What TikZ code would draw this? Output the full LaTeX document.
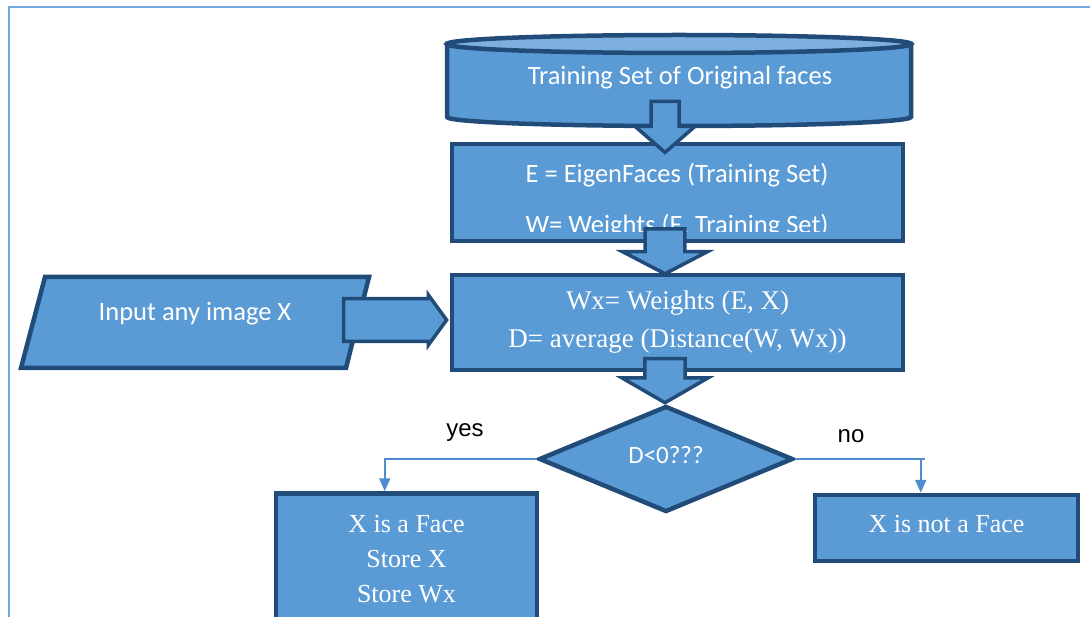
\documentclass[tikz,border=0pt]{standalone}
\usepackage{fontspec}
\setmainfont{Liberation Serif}
\newfontfamily\calibri{Carlito}
\newfontfamily\arialfont{Liberation Sans}
\usetikzlibrary{shapes.geometric, shapes.arrows, arrows.meta, positioning}
\definecolor{OfficeBlue}{RGB}{91, 155, 213}
\definecolor{OfficeLight}{RGB}{125, 176, 223}
\definecolor{NavyEdge}{RGB}{33, 76, 121}
\definecolor{FrameBlue}{RGB}{111, 168, 220}
\definecolor{LinkBlue}{RGB}{78, 140, 205}

\tikzset{
    procbox/.style={draw=NavyEdge, line width=4.5pt, fill=OfficeBlue, text=white, inner sep=0pt},
    decision/.style={diamond, draw=NavyEdge, line width=4.5pt, fill=OfficeBlue, text=white, inner sep=0pt,
        minimum width=254pt, minimum height=106pt, text height=17pt, text depth=8pt,
        font=\calibri\fontsize{25}{28}\selectfont},
    bigarrow/.style={single arrow, draw=NavyEdge, line width=3.5pt, fill=OfficeBlue, inner xsep=0pt,
        single arrow head extend=2pt, shape border rotate=270},
    flowline/.style={draw=LinkBlue, line width=2pt},
    calibritext/.style={text=white, font=\calibri\fontsize{26.5}{30}\selectfont},
    seriftext/.style={text=white, align=center, font=\fontsize{26}{35}\selectfont},
    branchlabel/.style={font=\arialfont\fontsize{24}{28}\selectfont},
}

\begin{document}
\begin{tikzpicture}[x=1pt, y=-1pt]
    \useasboundingbox (0,0) rectangle (1090,617);
    \clip (0,0) rectangle (1090,617);

    % Rahmen
    \draw[FrameBlue, line width=2.5pt] (9,640) -- (9,7) -- (1100,7);

    % Zylinder: Trainingsmenge
    \filldraw[fill=OfficeBlue, draw=NavyEdge, line width=4.5pt]
        (447,44) -- (447,117) arc[start angle=180, end angle=360, x radius=232pt, y radius=9pt] -- (911,44) -- cycle;
    \filldraw[fill=OfficeLight, draw=NavyEdge, line width=4.5pt] (679,44) ellipse [x radius=232pt, y radius=9pt];
    \node[calibritext, anchor=base] (train) at (680,85) {Training Set of Original faces};

    % Eigenfaces
    \node[procbox, minimum width=451pt, minimum height=97pt] (eigen) at (677.5,192.5) {};
    \begin{scope}
        \clip (452,146) rectangle (903,232);
        \node[calibritext, anchor=base] (eigenA) at (677,183) {E = EigenFaces (Training Set)};
        \node[calibritext, anchor=base] (eigenB) at (677,234) {W= Weights (E, Training Set)};
    \end{scope}

    % Gewichte und Abstand
    \node[procbox, seriftext, minimum width=451pt, minimum height=95pt, font=\fontsize{27}{38}\selectfont]
        (weights) at (677.5,322.5) {Wx= Weights (E, X)\\D= average (Distance(W, Wx))};

    % Eingabe
    \filldraw[fill=OfficeBlue, draw=NavyEdge, line width=4.5pt] (45,277) -- (369,277) -- (346,368) -- (21,368) -- cycle;
    \node[calibritext] (inputimg) at (195,314) {Input any image X};

    % Entscheidung
    \node[decision] (decide) at (666,459) {D<0???};

    % Ergebnisse
    \node[procbox, seriftext, minimum width=261pt, minimum height=131pt] (isface) at (406.5,559)
        {X is a Face\\Store X\\Store Wx};
    \node[procbox, seriftext, minimum width=263pt, minimum height=66pt, text height=18pt, text depth=10pt]
        (notface) at (946.5,528) {X is not a Face};

    % Blockpfeile
    \node[bigarrow, inner ysep=13.5pt, minimum width=60pt, minimum height=51pt, single arrow tip angle=98,
        anchor=tip] (arrowA) at ([xshift=-12.5pt,yshift=-13pt]eigen.north) {};
    \node[bigarrow, inner ysep=15.5pt, minimum width=85pt, minimum height=40pt, single arrow tip angle=125,
        anchor=tip] (arrowB) at ([xshift=-12.5pt,yshift=-3pt]weights.north) {};
    \node[bigarrow, inner ysep=14.5pt, minimum width=86pt, minimum height=40pt, single arrow tip angle=120,
        anchor=tip] (arrowC) at ([xshift=-1pt,yshift=-1pt]decide.north) {};
    \node[bigarrow, shape border rotate=0, inner ysep=10.5pt, minimum width=50pt, minimum height=103pt,
        single arrow tip angle=108, anchor=tip] (arrowD) at ([xshift=-1pt,yshift=2.5pt]weights.west) {};

    % Verzweigungen
    \coordinate (yesdrop) at ([xshift=111pt]isface.north west);
    \coordinate (nodrop) at ([xshift=108pt]notface.north west);
    \draw[flowline, -{Triangle[length=13pt, width=11pt]}] (decide.west) -| (yesdrop);
    \draw[flowline] (decide.east) -- ++(130pt,0pt);
    \draw[flowline, -{Triangle[length=13pt, width=11pt]}] (nodrop |- decide.east) -- (nodrop);

    % Beschriftungen
    \node[branchlabel] (yeslbl) at (465,433) {yes};
    \node[branchlabel] (nolbl) at (851,436) {no};
\end{tikzpicture}
\end{document}
